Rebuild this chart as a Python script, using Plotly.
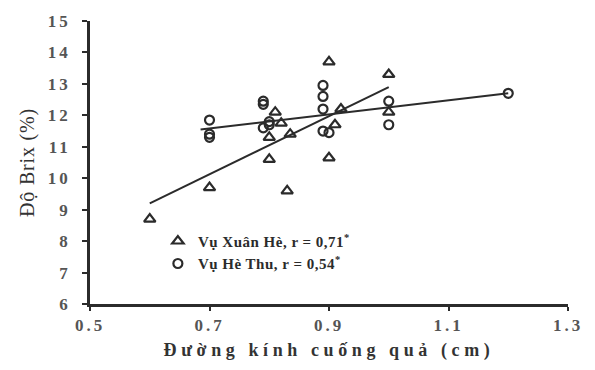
import plotly.graph_objects as go

# Vụ Xuân Hè (triangles)
xh_x = [0.60, 0.70, 0.80, 0.83, 0.81, 0.82, 0.80, 0.835, 0.90, 1.00, 0.91, 0.90, 1.00, 0.92]
xh_y = [8.70, 9.70, 10.60, 9.60, 12.10, 11.75, 11.30, 11.40, 13.70, 13.30, 11.70, 10.65, 12.10, 12.20]

# Vụ Hè Thu (circles)
ht_x = [0.70, 0.70, 0.70, 0.79, 0.79, 0.80, 0.80, 0.79, 0.89, 0.89, 0.89, 0.89, 0.90, 1.00, 1.00, 1.20]
ht_y = [11.85, 11.40, 11.30, 12.45, 12.35, 11.80, 11.70, 11.60, 12.95, 12.60, 12.20, 11.50, 11.45, 12.45, 11.70, 12.70]

# Trend lines (endpoints)
xh_line_x = [0.60, 1.00]
xh_line_y = [9.20, 12.90]
ht_line_x = [0.685, 1.20]
ht_line_y = [11.55, 12.70]

x_ticks = [0.5, 0.7, 0.9, 1.1, 1.3]
x_tick_labels = ["0.5", "0.7", "0.9", "1.1", "1.3"]
y_ticks = [6, 7, 8, 9, 10, 11, 12, 13, 14, 15]
y_tick_labels = ["6", "7", "8", "9", "10", "11", "12", "13", "14", "15"]

ink = "#2b2b2b"
font_family = "Liberation Serif"


def spaced(text, px, bold=False):
    s = f'<span style="letter-spacing:{px}px">{text}</span>'
    return f"<b>{s}</b>" if bold else s


fig = go.Figure()
fig.add_trace(go.Scatter(x=xh_line_x, y=xh_line_y, mode="lines",
                         line=dict(color=ink, width=2), showlegend=False, hoverinfo="skip"))
fig.add_trace(go.Scatter(x=ht_line_x, y=ht_line_y, mode="lines",
                         line=dict(color=ink, width=2), showlegend=False, hoverinfo="skip"))
fig.add_trace(go.Scatter(x=xh_x, y=xh_y, mode="markers",
                         name=spaced("Vụ Xuân Hè, r = 0,71<sup>*</sup>", 0.5, bold=True),
                         marker=dict(symbol="triangle-up-open", size=10, color=ink,
                                     line=dict(width=2.2, color=ink))))
fig.add_trace(go.Scatter(x=ht_x, y=ht_y, mode="markers",
                         name=spaced("Vụ Hè Thu, r = 0,54<sup>*</sup>", 0.5, bold=True),
                         marker=dict(symbol="circle-open", size=9, color=ink,
                                     line=dict(width=2.2, color=ink))))

fig.update_layout(
    width=595, height=370,
    margin=dict(l=90, r=20, t=18, b=65),
    paper_bgcolor="white", plot_bgcolor="white",
    font=dict(family=font_family, color=ink, size=14),
    legend=dict(x=0.142, y=0.28, xanchor="left", yanchor="top",
                bgcolor="rgba(0,0,0,0)", font=dict(size=15, family=font_family, color=ink),
                tracegroupgap=0, itemwidth=30),
    xaxis=dict(range=[0.5, 1.3], tickvals=x_ticks,
               ticktext=[spaced(t, 3, bold=True) for t in x_tick_labels],
               showgrid=False, zeroline=False, showline=True, linewidth=2.5, linecolor=ink,
               ticks="outside", ticklen=4, tickwidth=2, tickcolor=ink,
               tickfont=dict(size=17, family=font_family, color="#555"),
               title=dict(text=spaced("Đường kính cuống quả (cm)", 4.6, bold=True),
                          font=dict(size=18, color="#333"), standoff=10)),
    yaxis=dict(range=[6, 15], tickvals=y_ticks,
               ticktext=[spaced(t, 3, bold=True) for t in y_tick_labels],
               showgrid=False, zeroline=False, showline=True, linewidth=2.5, linecolor=ink,
               ticks="outside", ticklen=5, tickwidth=2, tickcolor=ink, ticklabelstandoff=8,
               tickfont=dict(size=17, family=font_family, color="#555"),
               title=dict(text=spaced("Độ Brix (%)", 0.8), font=dict(size=20, color="#333"), standoff=8)),
)

fig.write_html("out.html")
